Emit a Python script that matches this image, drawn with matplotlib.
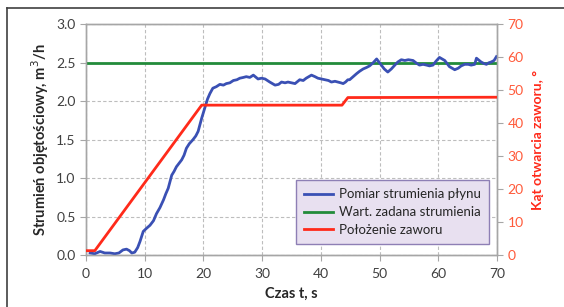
import matplotlib
matplotlib.use("Agg")
import matplotlib.pyplot as plt
from matplotlib.lines import Line2D

plt.rcParams['font.family'] = ['Lato', 'DejaVu Sans']

# Measured flow (m3/h)
t_flow = [0.7, 1.5, 2.4, 3.2, 4.1, 4.9, 5.6, 6.3, 6.9, 7.4, 7.8, 8.3, 8.8, 9.2, 9.75, 10.3, 10.9,
          11.5, 12.0, 12.6, 13.2, 13.6, 14.0, 14.6, 15.0, 15.4, 16.3, 16.7, 17.1, 17.6, 18.2, 18.7,
          19.1, 19.7, 20.3, 20.7, 21.1, 21.6, 22.2, 22.8, 23.4, 23.9, 24.5, 25.1, 25.7, 26.2, 26.8,
          27.3, 27.9, 28.5, 29.3, 29.9, 30.5, 31.3, 32.2, 32.8, 33.3, 33.9, 34.4, 35.0, 35.6, 36.4,
          37.0, 37.5, 38.4, 39.0, 39.5, 40.1, 40.7, 41.3, 41.8, 42.4, 42.9, 43.4, 43.8, 44.2, 44.6,
          44.9, 45.5, 46.1, 46.6, 47.2, 47.8, 48.3, 48.9, 49.5, 50.3, 50.8, 51.4, 52.0, 52.6, 53.1,
          53.7, 54.3, 54.9, 55.7, 56.2, 56.8, 57.4, 58.0, 58.5, 59.1, 59.6, 60.2, 61.1, 61.9, 62.8,
          63.4, 63.9, 64.5, 65.1, 65.6, 66.2, 66.5, 67.3, 67.8, 68.2, 68.6, 69.0, 69.5, 69.9]
flow = [0.03, 0.02, 0.05, 0.03, 0.03, 0.02, 0.03, 0.07, 0.08, 0.06, 0.03, 0.04, 0.10, 0.18, 0.31, 0.35, 0.39,
        0.45, 0.54, 0.62, 0.72, 0.80, 0.87, 1.04, 1.09, 1.15, 1.24, 1.30, 1.39, 1.45, 1.50, 1.55,
        1.61, 1.78, 1.93, 2.03, 2.10, 2.17, 2.19, 2.22, 2.21, 2.23, 2.24, 2.27, 2.28, 2.30, 2.31,
        2.32, 2.31, 2.34, 2.29, 2.30, 2.29, 2.25, 2.21, 2.22, 2.25, 2.24, 2.25, 2.24, 2.23, 2.28,
        2.27, 2.30, 2.34, 2.32, 2.30, 2.29, 2.28, 2.27, 2.25, 2.26, 2.25, 2.24, 2.23, 2.25, 2.28,
        2.28, 2.32, 2.36, 2.39, 2.42, 2.44, 2.46, 2.50, 2.55, 2.47, 2.42, 2.38, 2.42, 2.47, 2.51,
        2.54, 2.53, 2.54, 2.53, 2.50, 2.47, 2.48, 2.47, 2.46, 2.47, 2.52, 2.57, 2.53, 2.45, 2.41,
        2.43, 2.46, 2.48, 2.48, 2.47, 2.48, 2.56, 2.51, 2.49, 2.48, 2.50, 2.51, 2.53, 2.58]

# Set point (m3/h)
t_set = [0, 70]
setpoint = [2.5, 2.5]

# Valve position (deg)
t_valve = [0, 1.5, 19.7, 43.6, 44.6, 70]
valve = [1.4, 1.4, 45.5, 45.5, 47.8, 47.9]

x_ticks = [0, 10, 20, 30, 40, 50, 60, 70]
y_ticks = [0.0, 0.5, 1.0, 1.5, 2.0, 2.5, 3.0]
y2_ticks = [0, 10, 20, 30, 40, 50, 60, 70]

BLUE = '#3a50b4'
GREEN = '#228b3a'
RED = '#ff2a1a'
RTICK = '#ff5a3a'
GRID = '#bdbdbd'

fig = plt.figure(figsize=(5.64, 3.07), dpi=100)
ax = fig.add_axes([86/564, 1-255.3/307, (497-86)/564, (255.3-24.3)/307])
ax2 = ax.twinx()

ax.plot(t_set, setpoint, color=GREEN, lw=2.0, zorder=3)
ax.plot(t_flow, flow, color=BLUE, lw=2.0, zorder=4)
ax2.plot(t_valve, valve, color=RED, lw=2.0, zorder=3)

ax.set_xlim(0, 70)
ax.set_ylim(0, 3.0)
ax2.set_ylim(0, 70)
ax.set_xticks(x_ticks)
ax.set_yticks(y_ticks)
ax2.set_yticks(y2_ticks)
ax.set_yticklabels([f'{v:.1f}' for v in y_ticks])

ax.grid(True, color=GRID, linestyle=(0, (3, 2)), linewidth=0.8)
for sp in ['top', 'bottom', 'left', 'right']:
    ax.spines[sp].set_color('#a6a6a6')
    ax2.spines[sp].set_color('#a6a6a6')
    ax.spines[sp].set_linewidth(1.0)
    ax2.spines[sp].set_linewidth(1.0)

ax.tick_params(axis='y', colors='#a6a6a6', labelcolor='#404040', labelsize=10, length=4, width=0.8)
ax.tick_params(axis='x', colors='#a6a6a6', labelcolor='#404040', labelsize=10, length=4, width=0.8, pad=5)
ax2.tick_params(axis='y', colors='#a6a6a6', labelcolor=RTICK, labelsize=10, length=4, width=0.8)

ax.set_xlabel('Czas t, s', fontsize=10.5, fontweight='bold', color='#262626', labelpad=5)
ax.set_ylabel('Strumień objętościowy, m$^3$/h', fontsize=10.5, fontweight='bold', color='#262626', labelpad=4)
ax2.set_ylabel('Kąt otwarcia zaworu, °', fontsize=10, fontweight='bold', color=RED, labelpad=6)

handles = [Line2D([], [], color=BLUE, lw=2.0),
           Line2D([], [], color=GREEN, lw=2.0),
           Line2D([], [], color=RED, lw=2.0)]
labels = ['Pomiar strumienia płynu', 'Wart. zadana strumienia', 'Położenie zaworu']
leg = ax2.legend(handles, labels, loc='lower right', bbox_to_anchor=((489-86)/411, (255.3-244)/231),
                 fontsize=9.5, frameon=True, fancybox=False, handlelength=2.2, handletextpad=0.5,
                 borderpad=0.6, labelspacing=0.45, borderaxespad=0)
leg.get_frame().set_facecolor('#e8e0f0')
leg.get_frame().set_edgecolor('#8e7fb5')
leg.get_frame().set_linewidth(1.0)
leg.get_frame().set_alpha(1)
for txt in leg.get_texts():
    txt.set_color('#262626')

# figure frame lines (top and left)
fig.add_artist(Line2D([7/564, 1], [1-8/307, 1-8/307], color='#404040', lw=1.2, transform=fig.transFigure))
fig.add_artist(Line2D([7/564, 7/564], [0, 1-8/307], color='#404040', lw=1.2, transform=fig.transFigure))

fig.savefig('out.png', dpi=100)
